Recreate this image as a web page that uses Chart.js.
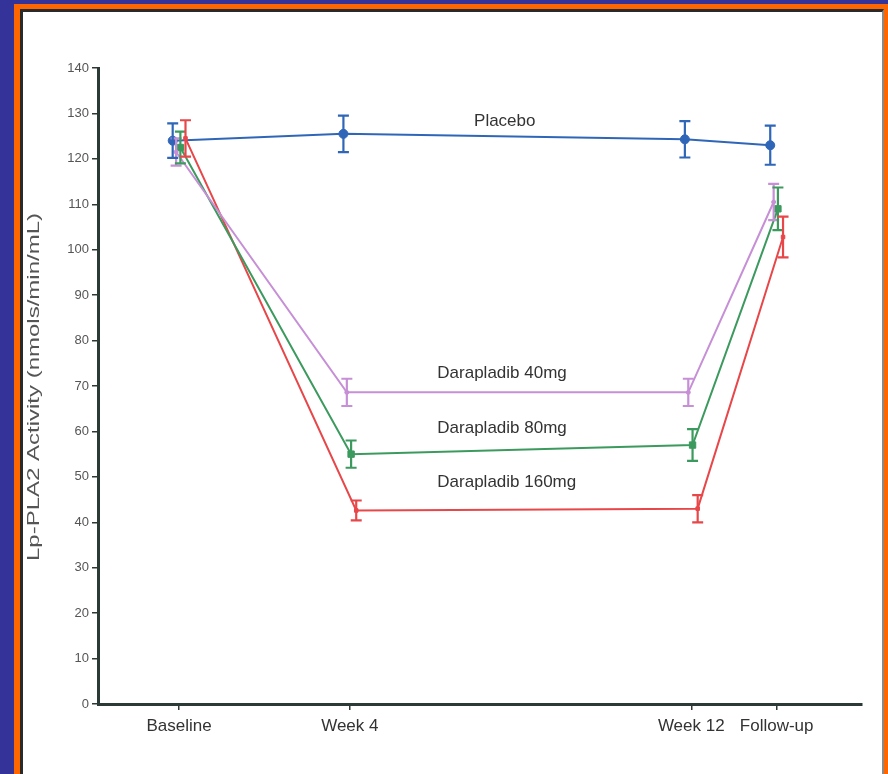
<!DOCTYPE html>
<html>
<head>
<meta charset="utf-8">
<script src="https://cdn.jsdelivr.net/npm/chart.js@4"></script>
<style>
  html, body { margin: 0; padding: 0; }
  body { width: 888px; height: 774px; background: #333399; position: relative; overflow: hidden; }
  #frame { position: absolute; left: 14px; top: 4px; right: 0; bottom: -20px; background: #ff6600; }
  #panel { position: absolute; left: 20px; top: 9px; width: 864px; height: 800px; box-sizing: border-box;
           background: #fff; border-left: 3px solid #2a2a2a; border-top: 3px solid #2a2a2a; border-right: 2px solid #8a8a8a; }
  #c { position: absolute; left: 24px; top: 12px; }
</style>
</head>
<body>
<div id="frame"></div>
<div id="panel"></div>
<canvas id="c" width="857" height="762"></canvas>
<script>
// time points (weeks) and axis labels
const weeks = [0, 4, 12, 14];
const tickLabels = ['Baseline', 'Week 4', 'Week 12', 'Follow-up'];
const yTicks = [0, 10, 20, 30, 40, 50, 60, 70, 80, 90, 100, 110, 120, 130, 140];

// mean Lp-PLA2 activity and error (nmols/min/mL)
const placeboMean = [124, 125.5, 124.3, 123];
const placeboErr = [3.8, 4, 4, 4.3];
const dara40Mean = [121.5, 68.6, 68.6, 110.5];
const dara40Err = [3, 3, 3, 4];
const dara80Mean = [122.5, 55, 57, 109];
const dara80Err = [3.5, 3, 3.5, 4.7];
const dara160Mean = [124.5, 42.6, 43, 102.8];
const dara160Err = [4, 2.2, 3, 4.5];

const axisColor = '#2b3a36';
const fontFamily = '"Liberation Sans", Arial, sans-serif';

function series(label, mean, err, color, dodge, pointStyle, radius) {
    return {
        label: label,
        data: weeks.map((w, i) => ({ x: w + dodge, y: mean[i] })),
        err: err,
        borderColor: color,
        backgroundColor: color,
        borderWidth: 2,
        pointStyle: pointStyle,
        pointRadius: radius,
        pointBorderWidth: 1,
        tension: 0,
        fill: false
    };
}

// text labels next to the lines, placed in data units
const seriesLabels = [
    { text: 'Placebo', x: 7.63, y: 128.2, align: 'center' },
    { text: 'Darapladib 40mg', x: 6.05, y: 72.8, align: 'left' },
    { text: 'Darapladib 80mg', x: 6.05, y: 60.7, align: 'left' },
    { text: 'Darapladib 160mg', x: 6.05, y: 48.8, align: 'left' }
];

const errorBars = {
    id: 'errorBars',
    afterDatasetsDraw(chart) {
        const ctx = chart.ctx;
        const xs = chart.scales.x, ys = chart.scales.y;
        chart.data.datasets.forEach(ds => {
            ctx.save();
            ctx.strokeStyle = ds.borderColor;
            ctx.lineWidth = 2.2;
            ds.data.forEach((p, i) => {
                const px = xs.getPixelForValue(p.x);
                const top = ys.getPixelForValue(p.y + ds.err[i]);
                const bot = ys.getPixelForValue(p.y - ds.err[i]);
                ctx.beginPath();
                ctx.moveTo(px, top); ctx.lineTo(px, bot);
                ctx.moveTo(px - 5.5, top); ctx.lineTo(px + 5.5, top);
                ctx.moveTo(px - 5.5, bot); ctx.lineTo(px + 5.5, bot);
                ctx.stroke();
            });
            ctx.restore();
        });
    }
};

const textLabels = {
    id: 'textLabels',
    afterDraw(chart) {
        const ctx = chart.ctx;
        const xs = chart.scales.x, ys = chart.scales.y;
        ctx.save();
        ctx.fillStyle = '#333';
        ctx.font = '17px ' + fontFamily;
        ctx.textBaseline = 'middle';
        seriesLabels.forEach(l => {
            ctx.textAlign = l.align;
            ctx.fillText(l.text, xs.getPixelForValue(l.x), ys.getPixelForValue(l.y));
        });
        // y axis title, stretched along its length like the original
        ctx.translate(11, 375);
        ctx.rotate(-Math.PI / 2);
        ctx.scale(1.5, 1);
        ctx.fillStyle = '#555';
        ctx.font = '16px ' + fontFamily;
        ctx.textAlign = 'center';
        ctx.textBaseline = 'middle';
        ctx.fillText('Lp-PLA2 Activity (nmols/min/mL)', 0, 0);
        ctx.restore();
    }
};

new Chart(document.getElementById('c').getContext('2d'), {
    type: 'line',
    data: {
        datasets: [
            series('Darapladib 40mg', dara40Mean, dara40Err, '#c68fd6', -0.07, 'circle', 2),
            series('Darapladib 80mg', dara80Mean, dara80Err, '#3c9a5e', 0.03, 'rect', 4.5),
            series('Darapladib 160mg', dara160Mean, dara160Err, '#e8474a', 0.15, 'rect', 2.5),
            series('Placebo', placeboMean, placeboErr, '#2f66b8', -0.15, 'circle', 4.5)
        ]
    },
    options: {
        responsive: false,
        animation: false,
        layout: { padding: { top: 56, right: 19, left: 0, bottom: 0 } },
        plugins: { legend: { display: false }, tooltip: { enabled: false } },
        scales: {
            x: {
                type: 'linear',
                min: -1.9,
                max: 16,
                afterBuildTicks: s => { s.ticks = weeks.map(v => ({ value: v })); },
                afterFit: s => { s.height = 70; },
                ticks: {
                    autoSkip: false,
                    maxRotation: 0,
                    padding: 6,
                    color: '#333',
                    font: { family: fontFamily, size: 17 },
                    callback: v => tickLabels[weeks.indexOf(v)]
                },
                grid: { drawOnChartArea: false, tickLength: 6, color: axisColor, lineWidth: 1.5 },
                border: { color: axisColor, width: 3 }
            },
            y: {
                min: 0,
                max: 140,
                afterBuildTicks: s => { s.ticks = yTicks.map(v => ({ value: v })); },
                afterFit: s => { s.width = 74; },
                ticks: {
                    padding: 3,
                    color: '#555',
                    font: { family: fontFamily, size: 13 }
                },
                grid: { drawOnChartArea: false, tickLength: 6, color: axisColor, lineWidth: 1.5 },
                border: { color: axisColor, width: 3 }
            }
        }
    },
    plugins: [errorBars, textLabels]
});
</script>
</body>
</html>
